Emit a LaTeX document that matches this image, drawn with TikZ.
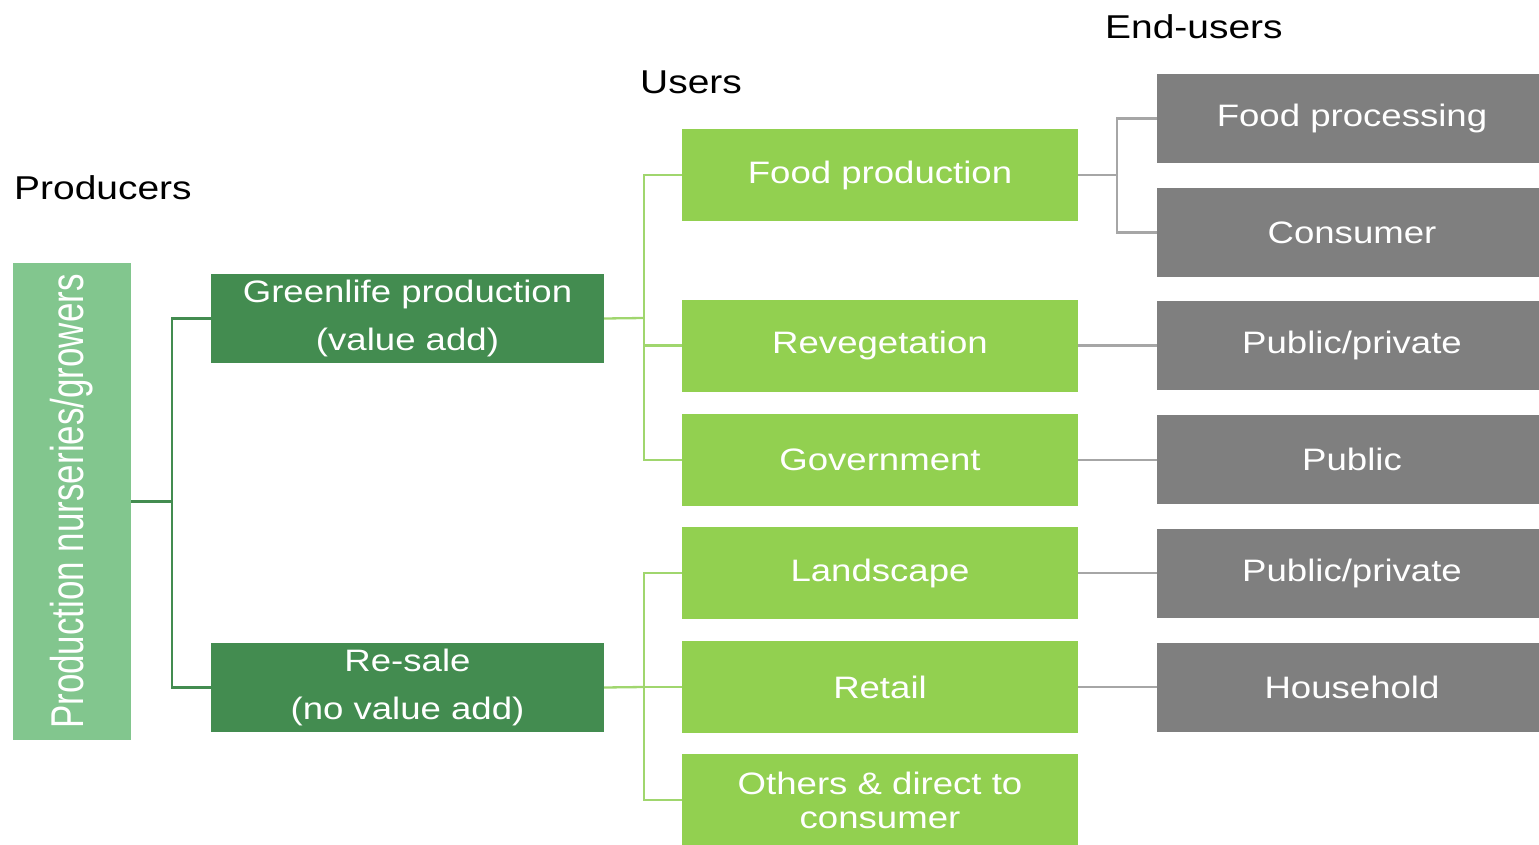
\documentclass[tikz,border=0pt]{standalone}
\usepackage{graphicx}
\usepackage{fontspec}
\setmainfont[FakeStretch=1.18]{Liberation Sans}
\newfontfamily\vertfont[FakeStretch=0.76]{Liberation Sans}

\definecolor{prodfill}{RGB}{130,198,142}
\definecolor{midfill}{RGB}{67,140,80}
\definecolor{userfill}{RGB}{146,208,80}
\definecolor{endfill}{RGB}{127,127,127}
\definecolor{userline}{RGB}{160,214,110}
\definecolor{endline}{RGB}{166,166,166}

\tikzset{
  box/.style={rectangle, inner sep=0pt, text=white, align=center,
    font=\fontsize{31}{48}\selectfont},
  midbox/.style={box, fill=midfill, minimum width=393, minimum height=89},
  userbox/.style={box, fill=userfill, minimum width=396, minimum height=92},
  endbox/.style={box, fill=endfill, minimum width=390, minimum height=89},
  title/.style={anchor=west, inner sep=0pt, font=\fontsize{33}{40}\selectfont},
  link/.style={line width=2.3pt},
  prodlink/.style={link, draw=midfill},
  userlink/.style={link, draw=userline},
  endlink/.style={link, draw=endline},
}

\begin{document}
\begin{tikzpicture}[x=1pt, y=-1pt]
\useasboundingbox (0,0) rectangle (1539,845);
\clip (0,0) rectangle (1539,845);

% column headings
\node[title] (hprod) at (14,188) {Producers};
\node[title] (huser) at (640,82) {Users};
\node[title] (hend) at (1105,27) {End-users};

% producers
\node[box, fill=prodfill, minimum width=118, minimum height=477] (prod) at (72,501.5)
  {\rotatebox{90}{\vertfont\fontsize{46}{50}\selectfont Production nurseries/growers}};

\node[midbox] (green) at (407.5,318.5) {Greenlife production\\(value add)};
\node[midbox] (resale) at (407.5,687.5) {Re-sale\\(no value add)};

% users
\node[userbox] (food) at (880,175) {Food production};
\node[userbox] (reveg) at (880,345.5) {Revegetation};
\node[userbox] (gov) at (880,460) {Government};
\node[userbox] (land) at (880,573) {Landscape};
\node[userbox] (retail) at (880,687) {Retail};
\node[userbox, font=\fontsize{31}{34}\selectfont] (others) at (880,800) {Others \& direct to\\consumer};

% end-users
\node[endbox] (proc) at (1352,118.5) {Food processing};
\node[endbox] (cons) at (1352,232.5) {Consumer};
\node[endbox] (pp1) at (1352,345.5) {Public/private};
\node[endbox] (pub) at (1352,459.5) {Public};
\node[endbox] (pp2) at (1352,573.5) {Public/private};
\node[endbox] (house) at (1352,687.5) {Household};

% branch points
\coordinate (j0) at (172,501.5);
\coordinate (j1) at (644,318);
\coordinate (j2) at (644,687);
\coordinate (j3) at (1117,175);

% producer branches
\draw[prodlink] (prod.east) -- (j0);
\draw[prodlink] (j0) |- (green.west);
\draw[prodlink] (j0) |- (resale.west);

% user branches
\draw[userlink] (green.east) -- (j1);
\draw[userlink] (j1) |- (food.west);
\draw[userlink] (j1) |- (reveg.west);
\draw[userlink] (j1) |- (gov.west);
\draw[userlink] (resale.east) -- (j2);
\draw[userlink] (j2) |- (land.west);
\draw[userlink] (j2) -- (retail.west);
\draw[userlink] (j2) |- (others.west);

% end-user branches
\draw[endlink] (food.east) -- (j3);
\draw[endlink] (j3) |- (proc.west);
\draw[endlink] (j3) |- (cons.west);
\draw[endlink] (reveg.east) -- (pp1.west);
\draw[endlink] (gov.east) -- (gov.east -| pub.west);
\draw[endlink] (land.east) -- (land.east -| pp2.west);
\draw[endlink] (retail.east) -- (retail.east -| house.west);
\end{tikzpicture}
\end{document}
